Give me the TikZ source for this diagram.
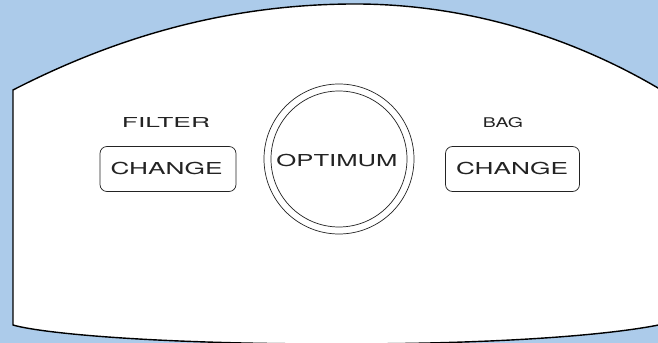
\documentclass[tikz,border=0pt]{standalone}
\usepackage{fontspec}
\usepackage{graphicx}
\setmainfont{TeX Gyre Heros}
\newlength{\px}
\setlength{\px}{0.03cm}
\definecolor{bgblue}{RGB}{172,203,234}
\definecolor{ink}{RGB}{35,35,35}
\tikzset{
  panel/.style={draw=black, line width=1.2pt, fill=white},
  changebox/.style={draw=ink, line width=0.6pt, rounded corners=7\px, minimum width=136\px, minimum height=45\px, inner sep=0pt, text=ink},
  ring/.style={draw=ink, line width=0.6pt, circle, inner sep=0pt},
  label/.style={text=ink, inner sep=0pt}
}
\begin{document}
\begin{tikzpicture}[x=0.03cm, y=-0.03cm]
\useasboundingbox (0,0) rectangle (658,343);
\clip (0,0) rectangle (658,343);
\fill[bgblue] (0,0) rectangle (658,343);
\draw[panel] (13,90) .. controls (120,35) and (230,5) .. (350,4)
  .. controls (470,3) and (580,40) .. (668,94) -- (668,323)
  .. controls (625,333) and (520,344) .. (337,344)
  .. controls (150,344) and (40,333) .. (13,325) -- cycle;
% centre emblem
\node[ring, minimum size=150\px] (outer) at (339,159) {};
\node[ring, minimum size=136\px] (inner) at (339,159) {};
\node[label] (optimum) at (337,161) {\resizebox{121\px}{12.3\px}{OPTIMUM}};
% left button
\node[label] (filter) at (166,123) {\resizebox{88\px}{10\px}{FILTER}};
\node[changebox] (lbox) at (168,169) {};
\node[label] (lchange) at (166.5,169) {\resizebox{112\px}{12.3\px}{CHANGE}};
% right button
\node[label] (bag) at (503,123) {\resizebox{40\px}{10\px}{BAG}};
\node[changebox, minimum width=134\px] (rbox) at (512.5,169) {};
\node[label] (rchange) at (512,169) {\resizebox{112\px}{12.3\px}{CHANGE}};
\end{tikzpicture}
\end{document}
